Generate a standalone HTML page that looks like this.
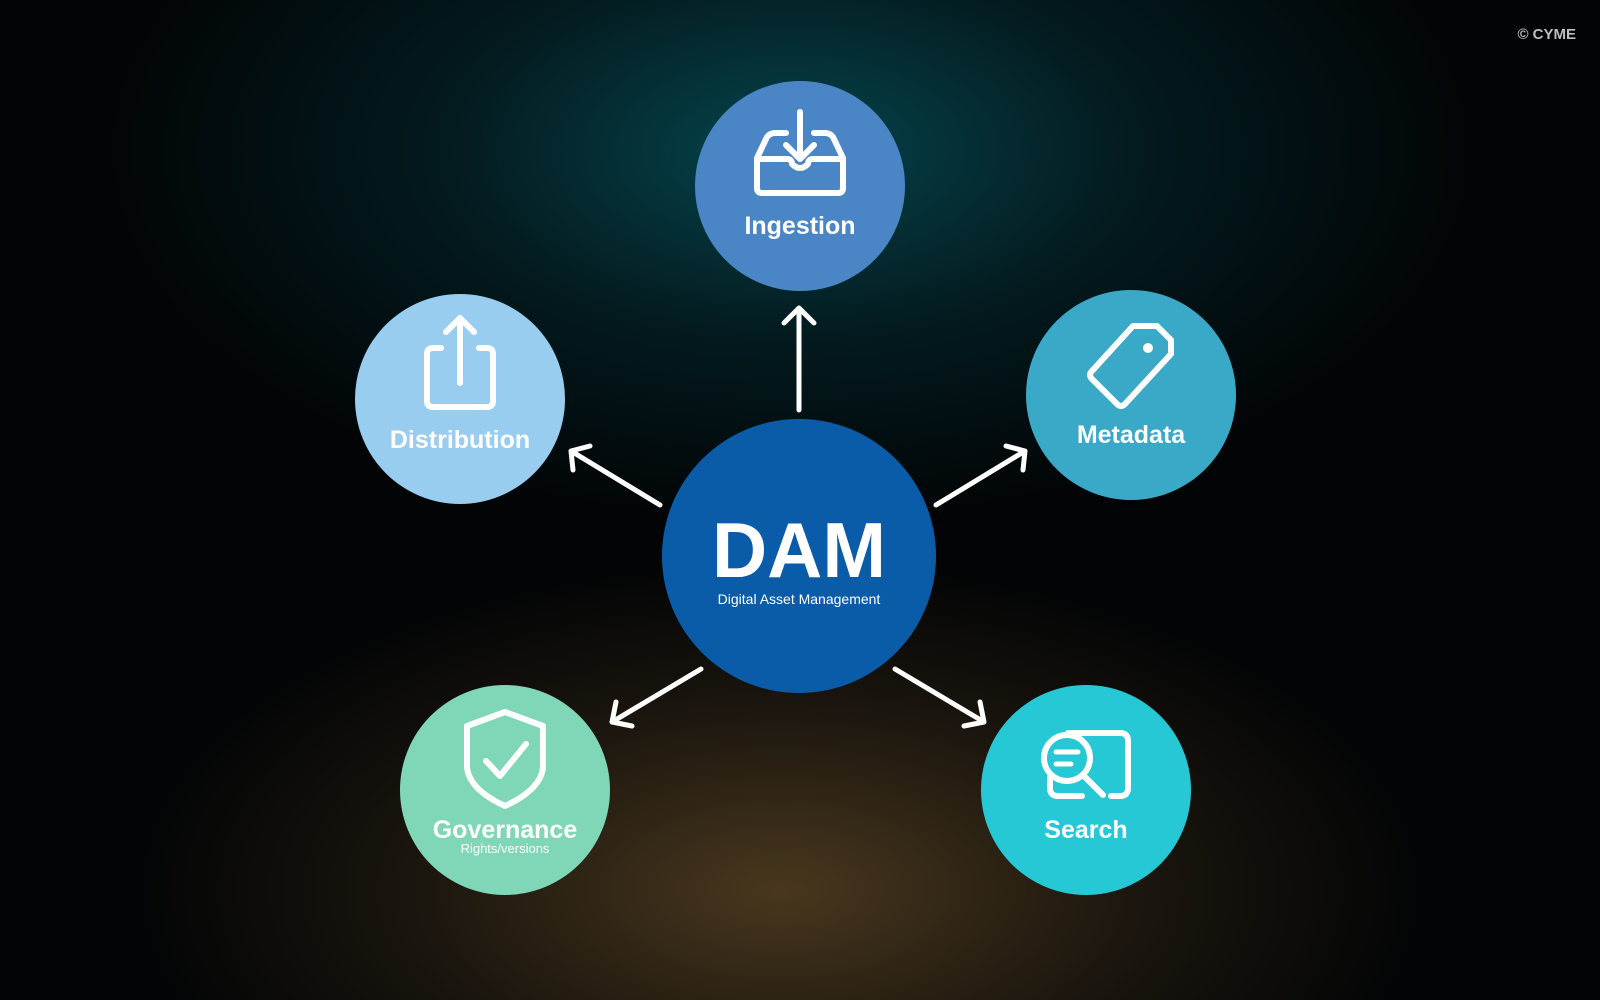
<!DOCTYPE html>
<html><head><meta charset="utf-8"><style>
html,body{margin:0;padding:0}
body{width:1600px;height:1000px;overflow:hidden;background:#000;font-family:"Liberation Sans",sans-serif}
.bg{position:absolute;inset:0;background:
radial-gradient(ellipse 700px 380px at 790px 150px, rgba(6,85,95,0.8), rgba(4,52,60,0.45) 50%, rgba(0,0,0,0) 100%),
radial-gradient(ellipse 650px 330px at 780px 890px, rgba(90,68,36,0.8), rgba(58,44,25,0.45) 55%, rgba(0,0,0,0) 100%),
#020405}
svg{position:absolute;left:0;top:0}
</style></head><body>
<div class="bg"></div>
<svg width="1600" height="1000" viewBox="0 0 1600 1000">
<text x="1576" y="39" text-anchor="end" font-size="15" font-weight="bold" fill="#b8c0c2">© CYME</text>
<g fill="none" stroke="#fff" stroke-width="5" stroke-linecap="round" stroke-linejoin="round">
<path d="M799 410 L799 308 M784 323 L799 308 L814 323"/>
<path d="M660 505 L571 451 M573 470 L571 451 L590 446"/>
<path d="M936 505 L1025 451 M1006 446 L1025 451 L1023 470"/>
<path d="M701 669 L612 722 M616 702 L612 722 L632 726"/>
<path d="M895 669 L984 722 M964 726 L984 722 L980 702"/>
</g>
<circle cx="800" cy="186" r="105" fill="#4a86c5"/>
<circle cx="460" cy="399" r="105" fill="#99cdef"/>
<circle cx="1131" cy="395" r="105" fill="#3aa9c8"/>
<circle cx="799" cy="556" r="137" fill="#0a5ca8"/>
<circle cx="505" cy="790" r="105" fill="#80d7b8"/>
<circle cx="1086" cy="790" r="105" fill="#26c8d5"/>
<g fill="none" stroke="#fff" stroke-width="6" stroke-linecap="round" stroke-linejoin="round">
<path d="M800 112 L800 158 M786 145 L800 159 L814 145"/>
<path d="M786 133 L775 133 Q770 133 767 137 L757 158 L757 188 Q757 193 762 193 L838 193 Q843 193 843 188 L843 158 L833 137 Q830 133 825 133 L814 133"/>
<path d="M757 159 L787 159 Q792 159 792 164 Q800 172 808 164 Q808 159 813 159 L843 159"/>
<path d="M441 348 L433 348 Q427 348 427 354 L427 401 Q427 407 433 407 L487 407 Q493 407 493 401 L493 354 Q493 348 487 348 L479 348"/>
<path d="M460 383 L460 318 M446 332 L460 318 L474 332"/>
<path d="M1133 326 L1157 326 L1171 340 L1171 354 L1125 404 Q1121 408 1117 404 L1092 379 Q1088 375 1092 371 Z"/>
<path d="M505 712 L543 726 L543 768 Q540 790 505 806 Q470 790 467 768 L467 726 Z"/>
<path d="M486 761 L500 776 L526 744"/>
<path d="M1068 733 L1120 733 Q1128 733 1128 741 L1128 788 Q1128 796 1120 796 L1111 796"/>
<path d="M1050 777 L1050 788 Q1050 796 1058 796 L1082 796"/>
<circle cx="1067" cy="758" r="23"/>
<path d="M1083 775 L1103 795"/>
<path d="M1056 752 L1078 752 M1056 764 L1071 764" stroke-width="5"/>
</g>
<circle cx="1148" cy="348" r="5" fill="#fff"/>
<g fill="#fff" text-anchor="middle" font-weight="bold">
<text x="800" y="234" font-size="25">Ingestion</text>
<text x="460" y="448" font-size="25">Distribution</text>
<text x="1131" y="443" font-size="25">Metadata</text>
<text x="505" y="838" font-size="25">Governance</text>
<text x="505" y="853" font-size="13" font-weight="normal">Rights/versions</text>
<text x="1086" y="838" font-size="25">Search</text>
<text x="799" y="577" font-size="78" textLength="174" lengthAdjust="spacingAndGlyphs">DAM</text>
<text x="799" y="604" font-size="14" font-weight="normal">Digital Asset Management</text>
</g>
</svg>
</body></html>
